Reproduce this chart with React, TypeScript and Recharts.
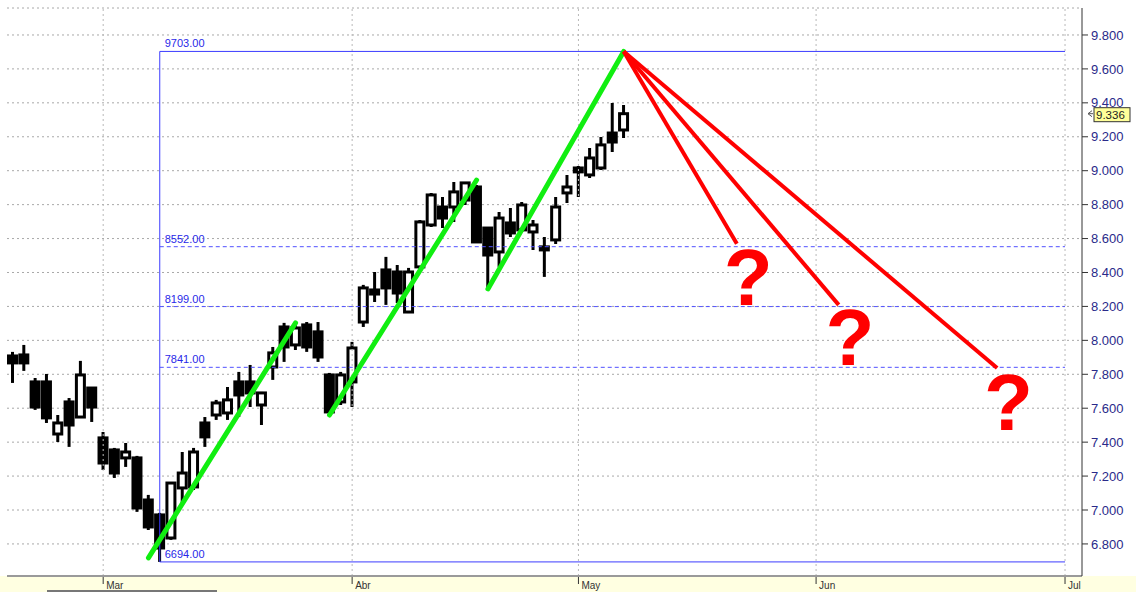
import { ComposedChart, Bar, XAxis, YAxis, CartesianGrid, ReferenceLine, ReferenceDot } from 'recharts';

// daily candles, Feb 19 .. May 7
const opens = [7908, 7914, 7755, 7755, 7448, 7637, 7548, 7719, 7425, 7354, 7307, 7307, 7059, 6971, 6835, 7130, 7136, 7513, 7560, 7572, 7755, 7755, 7619, 7843, 8079, 7973, 8091, 8050, 7796, 7637, 7755, 8108, 8297, 8415, 8403, 8167, 8433, 8680, 8786, 8786, 8827, 8904, 8662, 8521, 8692, 8651, 8639, 8551, 8592, 8869, 9016, 8975, 9016, 9222, 9240];
const highs = [7932, 7973, 7778, 7802, 7560, 7660, 7879, 7725, 7460, 7366, 7395, 7319, 7089, 6983, 7165, 7342, 7366, 7548, 7649, 7725, 7814, 7855, 7696, 7961, 8103, 8108, 8108, 8108, 7808, 7814, 7991, 8327, 8403, 8492, 8444, 8427, 8710, 8869, 8845, 8934, 8934, 8916, 8668, 8757, 8780, 8816, 8710, 8609, 8845, 8975, 9028, 9134, 9199, 9399, 9387];
const lows = [7749, 7820, 7590, 7513, 7401, 7372, 7543, 7519, 7236, 7189, 7254, 6989, 6882, 6694, 6824, 7030, 7118, 7372, 7531, 7531, 7548, 7607, 7501, 7767, 7873, 7943, 7932, 7873, 7572, 7619, 7607, 8079, 8226, 8209, 8220, 8161, 8403, 8668, 8662, 8698, 8798, 8574, 8309, 8433, 8609, 8639, 8533, 8374, 8568, 8810, 8845, 8957, 9004, 9110, 9193];
const closes = [7867, 7867, 7607, 7543, 7513, 7501, 7796, 7607, 7277, 7218, 7342, 7012, 6900, 6776, 7159, 7218, 7342, 7431, 7631, 7649, 7678, 7690, 7690, 7926, 7961, 8073, 7961, 7902, 7578, 7796, 7955, 8309, 8273, 8309, 8279, 8403, 8698, 8857, 8721, 8875, 8928, 8580, 8503, 8721, 8633, 8798, 8680, 8533, 8786, 8904, 8993, 9075, 9152, 9169, 9336];

const slotCount = 95;
const monthTicks = [8, 30, 50, 71, 93];
const monthLabels = ['Mar', 'Abr', 'May', 'Jun', 'Jul'];
const priceTicks = [6800, 7000, 7200, 7400, 7600, 7800, 8000, 8200, 8400, 8600, 8800, 9000, 9200, 9400, 9600, 9800];

// retracement levels
const levelStart = 13;
const levelEnd = 93;
const levels = [9703, 8552, 8199, 7841, 6694];
const solidLevels = [9703, 6694];

// trend lines [x1, y1, x2, y2]
const greenLines = [
  [12, 6718, 25, 8103],
  [28, 7560, 41, 8945],
  [42, 8303, 54, 9703],
];
const redLines = [
  [54, 9703, 64, 8570],
  [54, 9703, 73, 8209],
  [54, 9703, 87, 7837],
];
const questionMarks = [
  [65, 8209],
  [74, 7855],
  [88, 7472],
];

const lastPrice = 9336;

const data = Array.from({ length: slotCount }, (_, i) =>
  i < opens.length
    ? { idx: i, open: opens[i], high: highs[i], low: lows[i], close: closes[i] }
    : { idx: i }
);

const fmtPrice = (v: number) => (v / 1000).toFixed(3);

const Candle = (props: any) => {
  const { x, y, width, height, payload } = props;
  if (payload.high == null) return null;
  const { open, close, high, low } = payload;
  const top0 = Math.min(y, y + height);
  const h = Math.abs(height);
  const px = (v: number) => top0 + ((high - v) / (high - low)) * h;
  const cx = x + width / 2;
  const bull = close >= open;
  const bTop = px(Math.max(open, close));
  const bBot = px(Math.min(open, close));
  return (
    <g>
      <line x1={cx} x2={cx} y1={top0} y2={top0 + h} stroke="#000" strokeWidth={3} />
      <rect
        x={cx - 4}
        y={bTop}
        width={8}
        height={Math.max(bBot - bTop, 2)}
        fill={bull ? '#fff' : '#000'}
        stroke="#000"
        strokeWidth={3}
      />
    </g>
  );
};

const MonthTick = (props: any) => {
  const { x, payload } = props;
  const k = monthTicks.indexOf(payload.value);
  if (k < 0) return null;
  return (
    <g>
      <line x1={x} x2={x} y1={577} y2={584} stroke="#333" strokeWidth={1} />
      <text x={x + 3} y={589} fontSize={10} fill="#333" fontFamily="Liberation Sans Narrow, Liberation Sans, Arial">
        {monthLabels[k]}
      </text>
    </g>
  );
};

const LevelLabel = (props: any) => {
  const { viewBox, value } = props;
  if (!viewBox) return null;
  return (
    <text x={viewBox.x + 5} y={viewBox.y - 4} fontSize={11} fill="#2828e8">
      {value.toFixed(2)}
    </text>
  );
};

const PriceTag = (props: any) => {
  const { viewBox } = props;
  if (!viewBox) return null;
  const x0 = viewBox.x + viewBox.width;
  const y0 = viewBox.y;
  return (
    <g>
      <path d={`M${x0 + 6},${y0} l4,-3 M${x0 + 6},${y0} l4,3 M${x0 + 6},${y0} h5`} stroke="#555" strokeWidth={1} fill="none" />
      <rect x={x0 + 12} y={y0 - 6} width={36} height={14} fill="#ffff99" stroke="#333" strokeWidth={1} />
      <text x={x0 + 14} y={y0 + 5} fontSize={11.5} fill="#222">
        {fmtPrice(lastPrice)}
      </text>
    </g>
  );
};

const QMark = (props: any) => {
  const { viewBox } = props;
  if (!viewBox) return null;
  const cx = viewBox.x + viewBox.width / 2;
  const cy = viewBox.y + viewBox.height / 2;
  return (
    <text x={cx} y={cy} textAnchor="middle" fontSize={80} fontWeight="bold" fill="#ff0000">
      ?
    </text>
  );
};

export default function App() {
  return (
    <div
      style={{
        position: 'relative',
        width: 1136,
        height: 592,
        background: '#fff',
        fontFamily: '"Liberation Sans", Arial, sans-serif',
        overflow: 'hidden',
      }}
    >
      <style>{'body{margin:0}'}</style>
      <div style={{ position: 'absolute', left: 0, top: 576, width: 1136, height: 16, background: '#ffffe1' }} />
      <div style={{ position: 'absolute', left: 47, top: 590, width: 170, height: 2, background: '#777' }} />
      <div style={{ position: 'absolute', left: 0, top: 0 }}>
        <ComposedChart width={1136} height={592} data={data} margin={{ top: 8, right: 0, bottom: 0, left: 7 }}>
          <CartesianGrid vertical={false} stroke="#a8a8a8" strokeDasharray="2 3" />
          {monthTicks.map((m) => (
            <ReferenceLine key={'v' + m} x={m} stroke="#b8b8b8" strokeDasharray="2 3" />
          ))}
          <XAxis
            dataKey="idx"
            interval={0}
            height={16}
            tick={<MonthTick />}
            tickLine={false}
            axisLine={{ stroke: '#9a9a9a', strokeWidth: 2 }}
          />
          <YAxis
            orientation="right"
            width={54}
            domain={[6611, 9959]}
            allowDataOverflow
            ticks={priceTicks}
            tickFormatter={fmtPrice}
            tick={{ fill: '#2a2a8a', fontSize: 13 }}
            tickSize={6}
            tickMargin={3}
            axisLine={{ stroke: '#333' }}
            tickLine={{ stroke: '#333' }}
          />
          <ReferenceLine
            segment={[{ x: levelStart, y: levels[0] }, { x: levelStart, y: levels[levels.length - 1] }]}
            stroke="#3c3cff"
            strokeWidth={1}
            ifOverflow="visible"
          />
          {levels.map((lv) => (
            <ReferenceLine
              key={'l' + lv}
              segment={[{ x: levelStart, y: lv }, { x: levelEnd, y: lv }]}
              stroke={solidLevels.includes(lv) ? '#3c3cff' : '#5050ff'}
              strokeDasharray={solidLevels.includes(lv) ? undefined : '4 3'}
              strokeWidth={1}
              ifOverflow="visible"
              label={<LevelLabel value={lv} />}
            />
          ))}
          <Bar
            dataKey={(d: any) => (d.high == null ? null : [d.low, d.high])}
            barSize={9}
            shape={<Candle />}
            isAnimationActive={false}
          />
          {greenLines.map((g, i) => (
            <ReferenceLine
              key={'g' + i}
              segment={[{ x: g[0], y: g[1] }, { x: g[2], y: g[3] }]}
              stroke="#11ee11"
              strokeWidth={5}
              strokeLinecap="round"
              ifOverflow="visible"
            />
          ))}
          {redLines.map((r, i) => (
            <ReferenceLine
              key={'r' + i}
              segment={[{ x: r[0], y: r[1] }, { x: r[2], y: r[3] }]}
              stroke="#ff0000"
              strokeWidth={4}
              ifOverflow="visible"
            />
          ))}
          {questionMarks.map((q, i) => (
            <ReferenceDot
              key={'q' + i}
              x={q[0]}
              y={q[1]}
              r={1}
              fill="none"
              stroke="none"
              ifOverflow="visible"
              label={<QMark />}
            />
          ))}
          <ReferenceLine y={lastPrice} stroke="none" ifOverflow="visible" label={<PriceTag />} />
        </ComposedChart>
      </div>
    </div>
  );
}
